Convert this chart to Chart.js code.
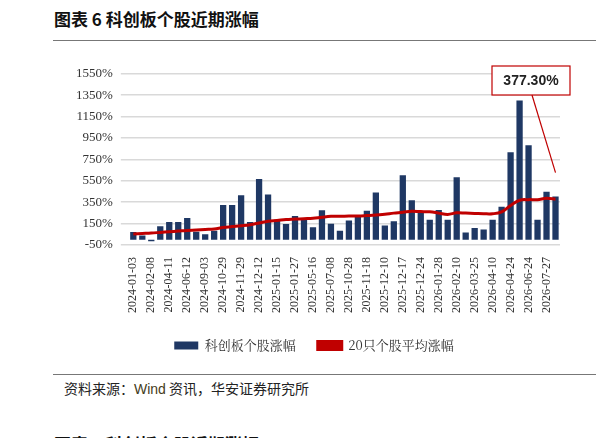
<!DOCTYPE html>
<html><head><meta charset="utf-8">
<script src="https://cdn.jsdelivr.net/npm/chart.js@4"></script>
<style>
body{margin:0;background:#fff;width:596px;height:438px;overflow:hidden;position:relative;font-family:"Noto Sans CJK SC",sans-serif}
#t{position:absolute;left:54px;top:6px;font-size:17px;font-weight:bold;color:#111}
.hl{position:absolute;left:53px;right:0;height:1px;background:#777}
#s{position:absolute;left:64px;top:378px;font-size:14px;color:#222}
#b{position:absolute;left:54px;top:431px;font-size:17px;font-weight:bold;color:#111}
#w{position:absolute;left:68px;top:58px;width:520px;height:304px}
</style></head><body>
<div id="t">图表 6 科创板个股近期涨幅</div>
<div class="hl" style="top:40px"></div>
<div class="hl" style="top:374px"></div>
<div id="s">资料来源：<span style="font-family:Liberation Sans;color:#443c20">Wind</span> 资讯，华安证券研究所</div>
<div id="b">图表 7 科创板个股近期涨幅</div>
<div id="w"><canvas id="c"></canvas></div>
<script>
const categories=["2024-01-03","","2024-02-08","","2024-04-11","","2024-06-12","","2024-09-03","","2024-10-29","","2024-11-29","","2024-12-12","","2025-01-15","","2025-01-27","","2025-05-16","","2025-07-08","","2025-10-28","","2025-11-18","","2025-12-10","","2025-12-17","","2025-12-24","","2026-01-28","","2026-02-10","","2026-03-25","","2026-04-10","","2026-04-24","","2026-06-24","","2026-07-27",""];
const stockGain=[72,39,-15,125,164,164,203,75,51,84,323,323,416,164,568,422,185,146,221,194,117,275,149,84,180,212,270,440,132,173,601,368,254,185,278,185,583,66,108,96,185,308,816,1300,882,185,448,404];
const avgGain=[54,58,62,68,74,80,86,90,95,100,114,122,130,140,156,173,180,188,192,196,200,210,218,219,220,221,225,230,238,248,256,266,262,260,248,236,251,248,245,242,242,260,320,368,374,374,386,377];
const yTicks=[-50,150,350,550,750,950,1150,1350,1550];
const serif='"Liberation Serif", "DejaVu Serif", serif';
const ann={id:'ann',afterDraw(ch){const c=ch.ctx,x=ch.scales.x,y=ch.scales.y;const i=47;
 const px=x.getPixelForValue(i),py=y.getPixelForValue(avgGain[i]+250);
 c.save();c.strokeStyle='#c00000';c.lineWidth=1.2;
 c.fillStyle='#fff';const bx=424,by=8,bw=78,bh=29;c.fillRect(bx,by,bw,bh);c.strokeRect(bx,by,bw,bh);
 c.beginPath();c.moveTo(bx+40,by+bh);c.lineTo(px,py);c.stroke();
 c.fillStyle='#222';c.font='bold 14px "Liberation Sans"';c.textAlign='center';c.textBaseline='middle';c.fillText('377.30%',bx+bw/2,by+bh/2+1);c.restore();}};
new Chart(document.getElementById('c'),{
 data:{labels:categories,datasets:[
  {type:'line',label:'20只个股平均涨幅',data:avgGain,borderColor:'#c00000',backgroundColor:'#c00000',borderWidth:3,pointRadius:0,tension:0.4,order:0},
  {type:'bar',label:'科创板个股涨幅',data:stockGain,backgroundColor:'#1f3864',categoryPercentage:0.7,barPercentage:1,order:1}]},
 options:{responsive:true,maintainAspectRatio:false,animation:false,
  layout:{padding:{top:10,right:28}},
  plugins:{tooltip:{enabled:false},legend:{position:'bottom',reverse:true,labels:{boxWidth:24,boxHeight:8,color:'#333',font:{family:'"Noto Serif CJK SC","Noto Sans CJK SC",serif',size:13},padding:22}}},
  scales:{
   x:{grid:{display:false},border:{display:false},ticks:{autoSkip:false,maxRotation:90,minRotation:90,color:'#333',font:{family:serif,size:12},padding:4}},
   y:{min:-50,max:1550,afterBuildTicks(s){s.ticks=yTicks.map(v=>({value:v}))},border:{display:false},
      grid:{color:'#d9d9d9',lineWidth:1.5,borderDash:[8,5]},
      ticks:{color:'#333',font:{family:serif,size:13},padding:8,callback:v=>v+'%'}}}},
 plugins:[ann]});
</script></body></html>
